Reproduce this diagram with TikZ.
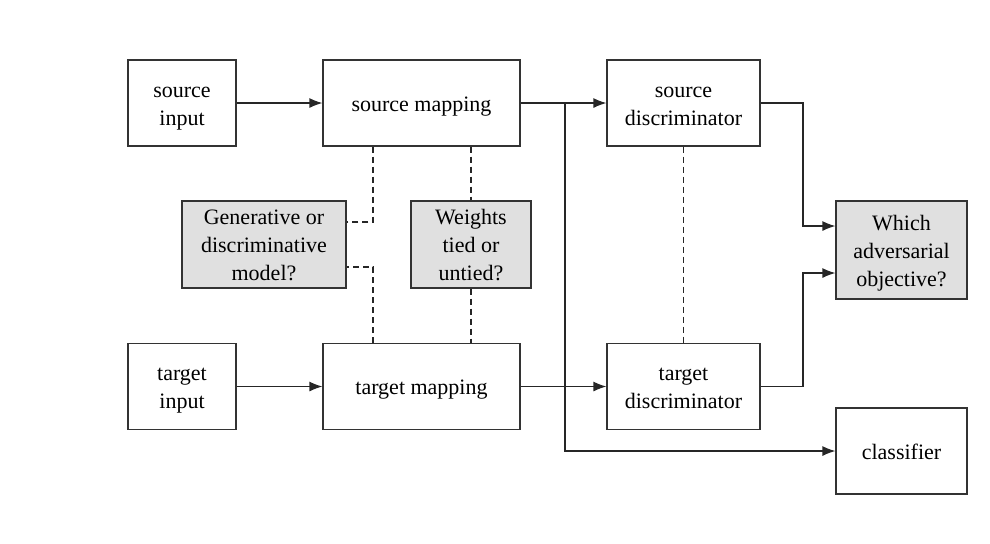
\documentclass[tikz,border=0pt]{standalone}
\usepackage{fontspec}
\setmainfont{Liberation Serif}
\usepackage{tikz}
\usetikzlibrary{arrows.meta}
\usetikzlibrary{positioning}
\newcommand{\row}{\rule[-3pt]{0pt}{14pt}}
\tikzset{block/.style={rectangle, draw=black!80, line width=0.6pt, align=center,
   font=\fontsize{11}{14}\selectfont, inner sep=0pt,
   minimum height=43pt}}
\tikzset{query/.style={block, fill=black!12}}
\tikzset{arr/.style={draw=black!85, line width=0.6pt, -{Latex[length=6.5pt,width=5pt]}}}
\tikzset{tie/.style={draw=black!85, line width=0.6pt, dash pattern=on 3pt off 2pt}}

\begin{document}
\begin{tikzpicture}[x=0.5pt, y=-0.5pt]

    \useasboundingbox (0,0) rectangle (990,543);

    \node[block, minimum width=54pt]   (sin)   at (182,103)   {\row source\\\row input};
    \node[block, minimum width=98.5pt] (smap)  at (421.5,103) {\row source mapping};
    \node[block, minimum width=76.5pt] (sdisc) at (683.5,103) {\row source\\\row discriminator};

    \node[query, minimum width=82pt, minimum height=43.5pt] (gen) at (264,244.5) {\row Generative or\\\row discriminative\\\row model?};
    \node[query, minimum width=60pt, minimum height=43.5pt] (wt)  at (471,244.5) {\row Weights\\\row tied or\\\row untied?};
    \node[query, minimum width=65.5pt, minimum height=49pt] (obj) at (901.5,250) {\row Which\\\row adversarial\\\row objective?};

    \node[block, minimum width=54pt]   (tin)   at (182,386.5)   {\row target\\\row input};
    \node[block, minimum width=98.5pt] (tmap)  at (421.5,386.5) {\row target mapping};
    \node[block, minimum width=76.5pt] (tdisc) at (683.5,386.5) {\row target\\\row discriminator};

    \node[block, minimum width=65.5pt] (cls) at (901.5,451) {\row classifier};

    \coordinate (fork) at (565,103);
    \coordinate (ga) at (373,222);
    \coordinate (gb) at (373,267);
    \coordinate (oa) at (803,226);
    \coordinate (ob) at (803,273);

    \draw[arr] (sin) -- (smap);
    \draw[arr] (smap) -- (sdisc);
    \draw[arr] (fork) |- (cls);
    \draw[arr] (tin) -- (tmap);
    \draw[arr] (tmap) -- (tdisc);
    \draw[arr] (sdisc.east) -| (oa) -- (oa -| obj.west);
    \draw[arr] (tdisc.east) -| (ob) -- (ob -| obj.west);

    \draw[tie] (smap.south -| ga) -- (ga) -- (ga -| gen.east);
    \draw[tie] (tmap.north -| gb) -- (gb) -- (gb -| gen.east);
    \draw[tie] (smap.south -| wt) -- (wt.north);
    \draw[tie] (wt.south) -- (tmap.north -| wt);
    \draw[tie] (sdisc) -- (tdisc);

  \end{tikzpicture}
\end{document}
